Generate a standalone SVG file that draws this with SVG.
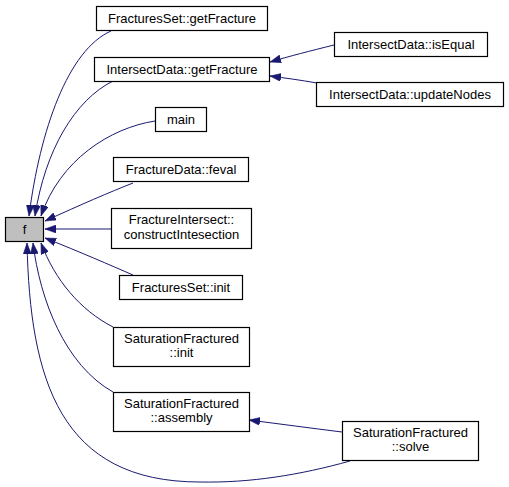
<svg xmlns="http://www.w3.org/2000/svg" width="509" height="487" viewBox="0 0 509 487">
<style>
.node rect{fill:#ffffff;stroke:#000000;stroke-width:1.2}
.node.focus rect{fill:#bfbfbf}
.node text{font-family:"Liberation Sans",Arial,sans-serif;font-size:13px;text-anchor:middle;fill:#000000}
.edges path{fill:none;stroke:#191970;stroke-width:1;marker-end:url(#arrow)}
</style>
<defs>
<marker id="arrow" viewBox="0 0 11 8" refX="11" refY="4" markerWidth="11" markerHeight="8" markerUnits="userSpaceOnUse" orient="auto">
<path d="M0,0 L11,4 L0,8 z" fill="#191970" stroke="#191970" stroke-width="0.5"/>
</marker>
</defs>
<rect width="509" height="487" fill="#ffffff"/>
<g class="edges">
<path d="M111,31 C68,50 40,130 29,216"/>
<path d="M113,81 C75,100 45,150 35,216"/>
<path d="M155,121 C110,128 60,160 41,216"/>
<path d="M133,183 C110,192 80,205 45,221"/>
<path d="M111,229 L45,229"/>
<path d="M133,275 C110,265 80,252 45,238"/>
<path d="M113,327 C80,310 55,280 41,243"/>
<path d="M113,392 C65,365 40,300 33,243"/>
<path d="M350,461 C300,475 250,483 200,482 C60,482 30,380 27,243"/>
<path d="M334,45 C310,51 290,56 270,62"/>
<path d="M317,83 C300,80 285,78 270,76"/>
<path d="M342,432 C310,428 280,424 249,420"/>
</g>
<g id="node-f" class="node focus"><rect x="5.5" y="217.5" width="38" height="24"/><text x="24.5" y="234">f</text></g>
<g id="node-fs-getFracture" class="node"><rect x="96.5" y="6.5" width="171" height="24"/><text x="182" y="23">FracturesSet::getFracture</text></g>
<g id="node-id-getFracture" class="node"><rect x="94.5" y="57.5" width="175" height="24"/><text x="182" y="74">IntersectData::getFracture</text></g>
<g id="node-id-isEqual" class="node"><rect x="334.5" y="32.5" width="153" height="24"/><text x="411" y="49">IntersectData::isEqual</text></g>
<g id="node-id-updateNodes" class="node"><rect x="316.5" y="82.5" width="187" height="24"/><text x="410" y="99">IntersectData::updateNodes</text></g>
<g id="node-main" class="node"><rect x="155.5" y="107.5" width="51" height="24"/><text x="181" y="124">main</text></g>
<g id="node-fd-feval" class="node"><rect x="113.5" y="157.5" width="135" height="24"/><text x="181" y="174">FractureData::feval</text></g>
<g id="node-fi-construct" class="node"><rect x="111.5" y="208.5" width="140" height="40"/><text x="181.5" y="224">FractureIntersect::</text><text x="181.5" y="239">constructIntesection</text></g>
<g id="node-fs-init" class="node"><rect x="119.5" y="275.5" width="123" height="24"/><text x="181" y="292">FracturesSet::init</text></g>
<g id="node-sf-init" class="node"><rect x="113.5" y="327.5" width="136" height="39"/><text x="181.5" y="343">SaturationFractured</text><text x="181.5" y="357">::init</text></g>
<g id="node-sf-assembly" class="node"><rect x="113.5" y="392.5" width="136" height="39"/><text x="181.5" y="408">SaturationFractured</text><text x="181.5" y="422">::assembly</text></g>
<g id="node-sf-solve" class="node"><rect x="342.5" y="421.5" width="136" height="39"/><text x="410.5" y="437">SaturationFractured</text><text x="410.5" y="451">::solve</text></g>
</svg>
